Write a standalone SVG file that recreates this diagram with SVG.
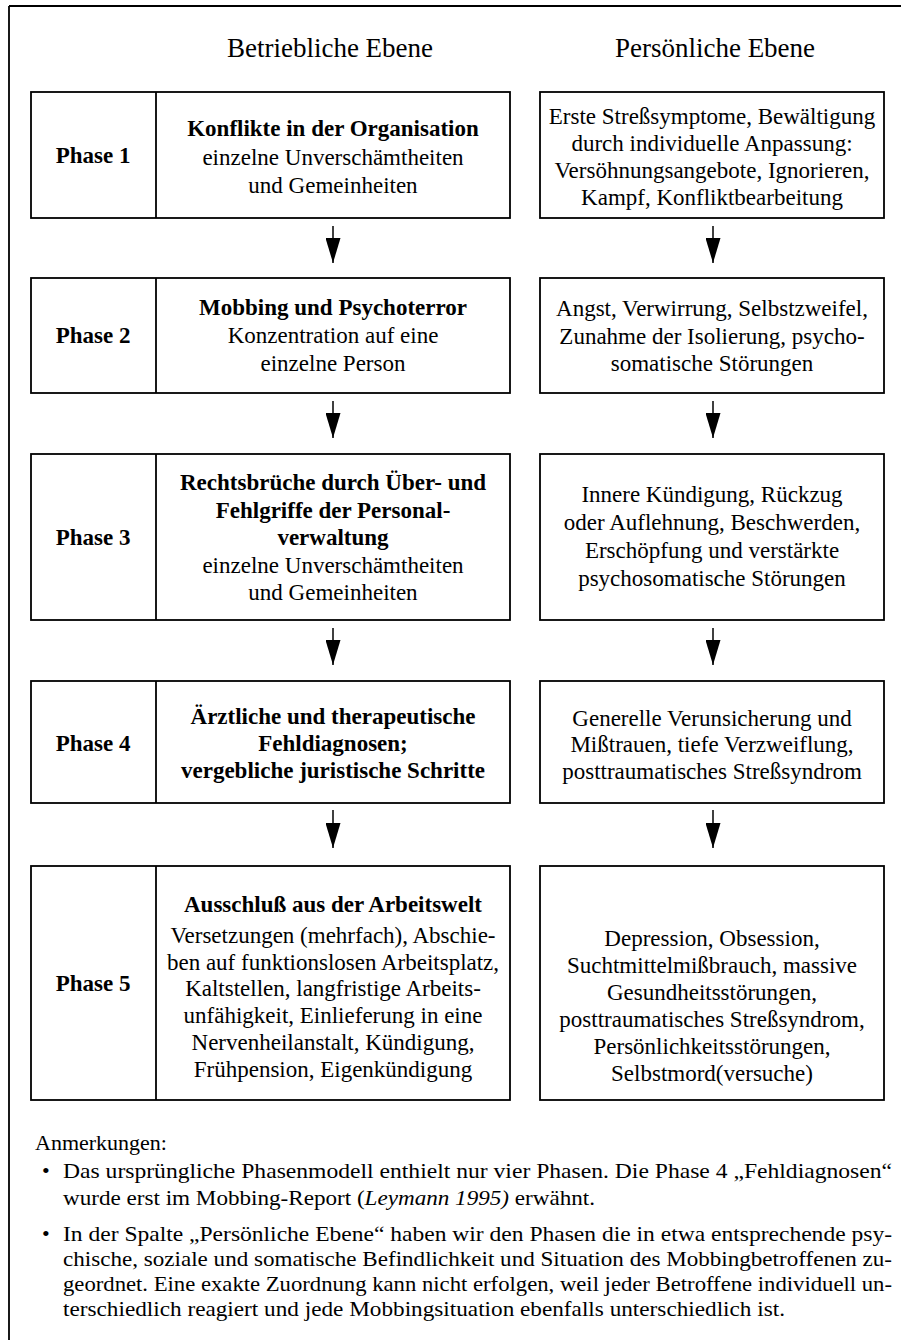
<svg xmlns="http://www.w3.org/2000/svg" width="901" height="1340" viewBox="0 0 901 1340" font-family="'Liberation Serif', 'Times New Roman', Times, serif">
<defs>
<style>
text{font-family:'Liberation Serif','Times New Roman',Times,serif}
.t{font-size:23px;fill:#000;text-anchor:middle}
.b{font-weight:bold}
.h{font-size:27px;fill:#000;text-anchor:middle}
.n{font-size:22px;fill:#000}
.box{fill:#fff;stroke:#000;stroke-width:1.8}
.ln{stroke:#000;stroke-width:1.8}
.ar{stroke:#000;stroke-width:1.5}
</style>
<marker id="ah" markerWidth="25" markerHeight="15" refX="25" refY="7.5" orient="auto" markerUnits="userSpaceOnUse" viewBox="0 0 25 15">
<path d="M0,0 L25,7.5 L0,15 Z" fill="#000"/>
</marker>
</defs>
<rect width="901" height="1340" fill="#fff"/>
<g id="frame">
<line class="ln" x1="9" y1="6" x2="9" y2="1340" stroke-width="2.2"/>
<line class="ln" x1="9" y1="6" x2="901" y2="6" stroke-width="2.2"/>
</g>
<g id="headers">
<text class="h" x="330" y="57">Betriebliche Ebene</text>
<text class="h" x="715" y="57">Persönliche Ebene</text>
</g>
<g id="phase1">
<rect class="box" x="31" y="92" width="479" height="126"/>
<line class="ln" x1="156" y1="92" x2="156" y2="218"/>
<text class="t b" x="93" y="163" font-size="24">Phase 1</text>
<text class="t b" x="333" y="136">Konflikte in der Organisation</text>
<text class="t" x="333" y="165">einzelne Unverschämtheiten</text>
<text class="t" x="333" y="193">und Gemeinheiten</text>
</g>
<g id="phase1r">
<rect class="box" x="540" y="92" width="344" height="126"/>
<text class="t" x="712" y="124">Erste Streßsymptome, Bewältigung</text>
<text class="t" x="712" y="151">durch individuelle Anpassung:</text>
<text class="t" x="712" y="178">Versöhnungsangebote, Ignorieren,</text>
<text class="t" x="712" y="205">Kampf, Konfliktbearbeitung</text>
</g>
<g id="phase2">
<rect class="box" x="31" y="278" width="479" height="115"/>
<line class="ln" x1="156" y1="278" x2="156" y2="393"/>
<text class="t b" x="93" y="343" font-size="24">Phase 2</text>
<text class="t b" x="333" y="315">Mobbing und Psychoterror</text>
<text class="t" x="333" y="343">Konzentration auf eine</text>
<text class="t" x="333" y="371">einzelne Person</text>
</g>
<g id="phase2r">
<rect class="box" x="540" y="278" width="344" height="115"/>
<text class="t" x="712" y="316">Angst, Verwirrung, Selbstzweifel,</text>
<text class="t" x="712" y="344">Zunahme der Isolierung, psycho-</text>
<text class="t" x="712" y="371">somatische Störungen</text>
</g>
<g id="phase3">
<rect class="box" x="31" y="454" width="479" height="166"/>
<line class="ln" x1="156" y1="454" x2="156" y2="620"/>
<text class="t b" x="93" y="545" font-size="24">Phase 3</text>
<text class="t b" x="333" y="490">Rechtsbrüche durch Über- und</text>
<text class="t b" x="333" y="518">Fehlgriffe der Personal-</text>
<text class="t b" x="333" y="545">verwaltung</text>
<text class="t" x="333" y="573">einzelne Unverschämtheiten</text>
<text class="t" x="333" y="600">und Gemeinheiten</text>
</g>
<g id="phase3r">
<rect class="box" x="540" y="454" width="344" height="166"/>
<text class="t" x="712" y="502">Innere Kündigung, Rückzug</text>
<text class="t" x="712" y="530">oder Auflehnung, Beschwerden,</text>
<text class="t" x="712" y="558">Erschöpfung und verstärkte</text>
<text class="t" x="712" y="586">psychosomatische Störungen</text>
</g>
<g id="phase4">
<rect class="box" x="31" y="681" width="479" height="122"/>
<line class="ln" x1="156" y1="681" x2="156" y2="803"/>
<text class="t b" x="93" y="751" font-size="24">Phase 4</text>
<text class="t b" x="333" y="724">Ärztliche und therapeutische</text>
<text class="t b" x="333" y="751">Fehldiagnosen;</text>
<text class="t b" x="333" y="778">vergebliche juristische Schritte</text>
</g>
<g id="phase4r">
<rect class="box" x="540" y="681" width="344" height="122"/>
<text class="t" x="712" y="726">Generelle Verunsicherung und</text>
<text class="t" x="712" y="752">Mißtrauen, tiefe Verzweiflung,</text>
<text class="t" x="712" y="779">posttraumatisches Streßsyndrom</text>
</g>
<g id="phase5">
<rect class="box" x="31" y="866" width="479" height="234"/>
<line class="ln" x1="156" y1="866" x2="156" y2="1100"/>
<text class="t b" x="93" y="991" font-size="24">Phase 5</text>
<text class="t b" x="333" y="912">Ausschluß aus der Arbeitswelt</text>
<text class="t" x="333" y="943">Versetzungen (mehrfach), Abschie-</text>
<text class="t" x="333" y="970">ben auf funktionslosen Arbeitsplatz,</text>
<text class="t" x="333" y="996">Kaltstellen, langfristige Arbeits-</text>
<text class="t" x="333" y="1023">unfähigkeit, Einlieferung in eine</text>
<text class="t" x="333" y="1050">Nervenheilanstalt, Kündigung,</text>
<text class="t" x="333" y="1077">Frühpension, Eigenkündigung</text>
</g>
<g id="phase5r">
<rect class="box" x="540" y="866" width="344" height="234"/>
<text class="t" x="712" y="946">Depression, Obsession,</text>
<text class="t" x="712" y="973">Suchtmittelmißbrauch, massive</text>
<text class="t" x="712" y="1000">Gesundheitsstörungen,</text>
<text class="t" x="712" y="1027">posttraumatisches Streßsyndrom,</text>
<text class="t" x="712" y="1054">Persönlichkeitsstörungen,</text>
<text class="t" x="712" y="1081">Selbstmord(versuche)</text>
</g>
<g id="connectors">
<line class="ar" x1="333" y1="226" x2="333" y2="263" marker-end="url(#ah)"/>
<line class="ar" x1="713" y1="226" x2="713" y2="263" marker-end="url(#ah)"/>
<line class="ar" x1="333" y1="401" x2="333" y2="438" marker-end="url(#ah)"/>
<line class="ar" x1="713" y1="401" x2="713" y2="438" marker-end="url(#ah)"/>
<line class="ar" x1="333" y1="628" x2="333" y2="665" marker-end="url(#ah)"/>
<line class="ar" x1="713" y1="628" x2="713" y2="665" marker-end="url(#ah)"/>
<line class="ar" x1="333" y1="810" x2="333" y2="848" marker-end="url(#ah)"/>
<line class="ar" x1="713" y1="810" x2="713" y2="848" marker-end="url(#ah)"/>
</g>
<g id="notes">
<text class="n" x="35" y="1150">Anmerkungen:</text>
<text class="n" x="42" y="1178">•</text>
<text class="n" x="63" y="1178" textLength="829" lengthAdjust="spacingAndGlyphs">Das ursprüngliche Phasenmodell enthielt nur vier Phasen. Die Phase 4 „Fehldiagnosen“</text>
<text class="n" x="63" y="1205" textLength="532" lengthAdjust="spacingAndGlyphs">wurde erst im Mobbing-Report (<tspan font-style="italic">Leymann 1995)</tspan> erwähnt.</text>
<text class="n" x="42" y="1241">•</text>
<text class="n" x="63" y="1241" textLength="829" lengthAdjust="spacingAndGlyphs">In der Spalte „Persönliche Ebene“ haben wir den Phasen die in etwa entsprechende psy-</text>
<text class="n" x="63" y="1266" textLength="829" lengthAdjust="spacingAndGlyphs">chische, soziale und somatische Befindlichkeit und Situation des Mobbingbetroffenen zu-</text>
<text class="n" x="63" y="1291" textLength="829" lengthAdjust="spacingAndGlyphs">geordnet. Eine exakte Zuordnung kann nicht erfolgen, weil jeder Betroffene individuell un-</text>
<text class="n" x="63" y="1316" textLength="722" lengthAdjust="spacingAndGlyphs">terschiedlich reagiert und jede Mobbingsituation ebenfalls unterschiedlich ist.</text>
</g>
</svg>
